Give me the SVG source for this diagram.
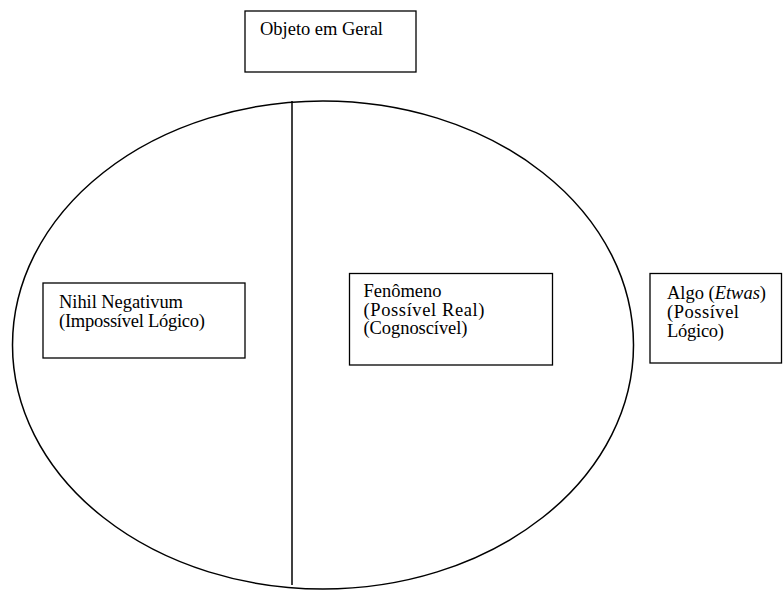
<svg xmlns="http://www.w3.org/2000/svg" width="783" height="590" viewBox="0 0 783 590">
<style>
.box{fill:#fff;stroke:#000;stroke-width:1.3}
.ln{fill:none;stroke:#000;stroke-width:1.5}
.t{font-family:'Liberation Serif','DejaVu Serif',serif;font-size:18.5px;fill:#000}
</style>
<rect width="783" height="590" fill="#fff"/>
<g id="connectors">
<ellipse class="ln" cx="323" cy="345" rx="310.5" ry="244"/>
<line class="ln" x1="292" y1="101" x2="292" y2="585"/>
</g>
<g id="objeto" class="t">
<rect class="box" x="245" y="11" width="171" height="61"/>
<text x="260" y="35" textLength="123" lengthAdjust="spacing">Objeto em Geral</text>
</g>
<g id="nihil" class="t">
<rect class="box" x="43" y="283" width="202" height="75"/>
<text x="59" y="307.5" textLength="124" lengthAdjust="spacing">Nihil Negativum</text>
<text x="59" y="326.5" textLength="146" lengthAdjust="spacing">(Impossível Lógico)</text>
</g>
<g id="fenomeno" class="t">
<rect class="box" x="349.5" y="273.5" width="203" height="91.5"/>
<text x="363.5" y="297" textLength="78" lengthAdjust="spacing">Fenômeno</text>
<text x="363.5" y="315.5" textLength="121" lengthAdjust="spacing">(Possível Real)</text>
<text x="363.5" y="334" textLength="104" lengthAdjust="spacing">(Cognoscível)</text>
</g>
<g id="algo" class="t">
<rect class="box" x="650" y="273.5" width="131.5" height="89.5"/>
<text x="667" y="299" textLength="99" lengthAdjust="spacing">Algo (<tspan font-style="italic">Etwas</tspan>)</text>
<text x="667" y="318" textLength="72" lengthAdjust="spacing">(Possível</text>
<text x="667" y="337" textLength="57" lengthAdjust="spacing">Lógico)</text>
</g>
</svg>
